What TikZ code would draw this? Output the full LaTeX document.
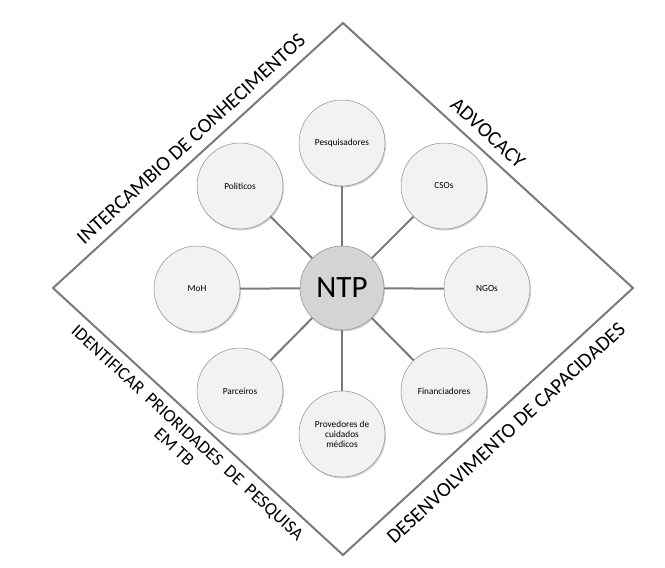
\documentclass[tikz,border=0pt]{standalone}
\usepackage{fontspec}
\setmainfont{Carlito}
\usetikzlibrary{shadows}
\definecolor{linegray}{HTML}{7A7A7A}
\definecolor{circfill}{HTML}{F2F2F2}
\definecolor{ntpfill}{HTML}{D4D4D4}
\begin{document}
\begin{tikzpicture}[x=1pt,y=-1pt,
  sat/.style={circle, draw=black!45, line width=0.5pt, fill=circfill, minimum size=86pt, inner sep=0pt,
    font=\fontsize{9.3}{10}\selectfont, align=center,
    drop shadow={shadow xshift=1pt, shadow yshift=-1.5pt, opacity=0.35}},
  hub/.style={sat, fill=ntpfill, minimum size=84pt, font=\fontsize{31}{32}\selectfont},
  conn/.style={draw=linegray, line width=2pt},
  frame/.style={draw=linegray, line width=2pt, line join=miter},
  edgelabel/.style={font=\fontsize{20.5}{22}\selectfont, inner sep=0pt, align=center}]
\useasboundingbox (0,0) rectangle (665,568);
% diamond
\coordinate (T) at (343,23);
\coordinate (R) at (633,288);
\coordinate (B) at (343,555);
\coordinate (L) at (53,288);
\draw[frame] (T) -- (R) -- (B) -- (L) -- cycle;
% hub and satellites
\node[hub] (ntp) at (342,288) {NTP};
\node[sat] (pes) at (342,143) {Pesquisadores};
\node[sat] (pol) at (240,186) {Politicos};
\node[sat] (cso) at (444,186) {CSOs};
\node[sat] (moh) at (197,289) {MoH};
\node[sat] (ngo) at (487,289) {NGOs};
\node[sat] (par) at (240,391) {Parceiros};
\node[sat] (fin) at (444,391) {Financiadores};
\node[sat] (pro) at (342,434) {Provedores de\\cuidados\\médicos};
\foreach \n in {pes,pol,cso,moh,ngo,par,fin,pro}{\draw[conn] (ntp) -- (\n);}
% edge labels
\node[edgelabel, rotate=42.4] (k1) at (191,139) {INTERCAMBIO DE CONHECIMENTOS};
\node[edgelabel, rotate=-42.4] (k2) at (488,133) {ADVOCACY};
\node[edgelabel, rotate=-42.6, font=\fontsize{18}{20}\selectfont] (k3) at (181,440)
  {IDENTIFICAR\hspace{0.45em}PRIORIDADES\hspace{0.45em}DE\hspace{0.45em}PESQUISA\\EM TB};
\node[edgelabel, rotate=42.6] (k4) at (506,433) {DESENVOLVIMENTO DE CAPACIDADES};
\end{tikzpicture}
\end{document}
